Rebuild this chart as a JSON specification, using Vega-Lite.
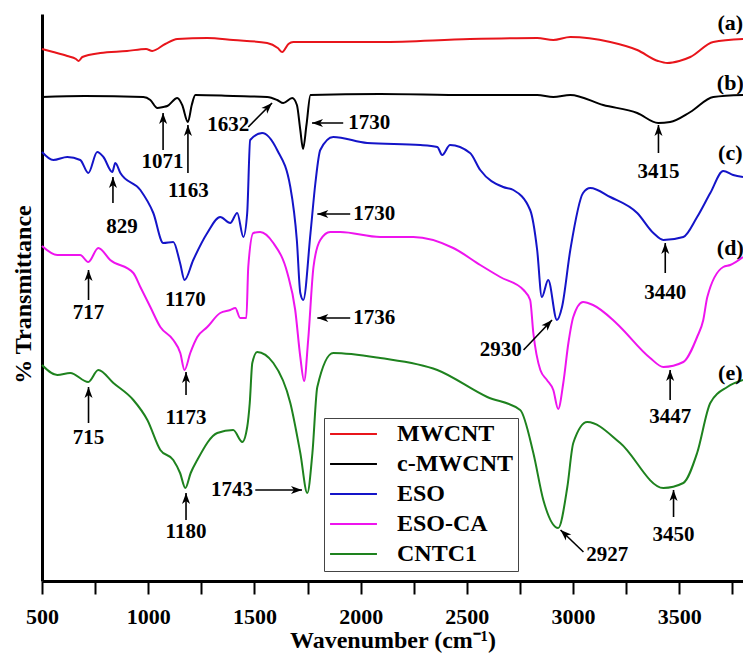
{
  "$schema": "https://vega.github.io/schema/vega-lite/v6.json",
  "width": 701,
  "height": 567,
  "autosize": {"type": "none"},
  "padding": {"left": 42, "top": 14, "right": 0, "bottom": 81},
  "config": {"view": {"stroke": null}, "font": "Liberation Serif"},
  "datasets": {
    "spectra": [
      {"s":"MWCNT","w":500,"t":532},{"s":"MWCNT","w":553,"t":529},{"s":"MWCNT","w":619,"t":525},{"s":"MWCNT","w":660,"t":522},{"s":"MWCNT","w":672,"t":520},{"s":"MWCNT","w":690,"t":524},{"s":"MWCNT","w":774,"t":528},{"s":"MWCNT","w":900,"t":530},{"s":"MWCNT","w":990,"t":532},{"s":"MWCNT","w":1019,"t":530},{"s":"MWCNT","w":1080,"t":537},{"s":"MWCNT","w":1137,"t":542},{"s":"MWCNT","w":1278,"t":543},{"s":"MWCNT","w":1400,"t":541},{"s":"MWCNT","w":1560,"t":538},{"s":"MWCNT","w":1610,"t":533},{"s":"MWCNT","w":1631,"t":529},{"s":"MWCNT","w":1660,"t":537},{"s":"MWCNT","w":1683,"t":539},{"s":"MWCNT","w":2092,"t":539},{"s":"MWCNT","w":2515,"t":542},{"s":"MWCNT","w":2831,"t":543},{"s":"MWCNT","w":2907,"t":541},{"s":"MWCNT","w":2987,"t":544},{"s":"MWCNT","w":3175,"t":539},{"s":"MWCNT","w":3302,"t":531},{"s":"MWCNT","w":3400,"t":520},{"s":"MWCNT","w":3444,"t":518},{"s":"MWCNT","w":3500,"t":520},{"s":"MWCNT","w":3552,"t":524},{"s":"MWCNT","w":3660,"t":539},{"s":"MWCNT","w":3800,"t":542},
      {"s":"c-MWCNT","w":500,"t":484},{"s":"c-MWCNT","w":700,"t":485},{"s":"c-MWCNT","w":977,"t":484},{"s":"c-MWCNT","w":1010,"t":481},{"s":"c-MWCNT","w":1043,"t":473},{"s":"c-MWCNT","w":1071,"t":474},{"s":"c-MWCNT","w":1090,"t":475},{"s":"c-MWCNT","w":1137,"t":483},{"s":"c-MWCNT","w":1160,"t":476},{"s":"c-MWCNT","w":1187,"t":459},{"s":"c-MWCNT","w":1205,"t":476},{"s":"c-MWCNT","w":1222,"t":486},{"s":"c-MWCNT","w":1400,"t":485},{"s":"c-MWCNT","w":1560,"t":484},{"s":"c-MWCNT","w":1607,"t":481},{"s":"c-MWCNT","w":1636,"t":478},{"s":"c-MWCNT","w":1678,"t":483},{"s":"c-MWCNT","w":1700,"t":476},{"s":"c-MWCNT","w":1716,"t":451},{"s":"c-MWCNT","w":1729,"t":432},{"s":"c-MWCNT","w":1745,"t":456},{"s":"c-MWCNT","w":1764,"t":486},{"s":"c-MWCNT","w":2092,"t":487},{"s":"c-MWCNT","w":2500,"t":486},{"s":"c-MWCNT","w":2831,"t":486},{"s":"c-MWCNT","w":2907,"t":484},{"s":"c-MWCNT","w":2987,"t":486},{"s":"c-MWCNT","w":3142,"t":476},{"s":"c-MWCNT","w":3302,"t":468},{"s":"c-MWCNT","w":3401,"t":458},{"s":"c-MWCNT","w":3457,"t":459},{"s":"c-MWCNT","w":3552,"t":469},{"s":"c-MWCNT","w":3660,"t":484},{"s":"c-MWCNT","w":3800,"t":486},
      {"s":"ESO","w":500,"t":429},{"s":"ESO","w":553,"t":421},{"s":"ESO","w":619,"t":424},{"s":"ESO","w":680,"t":421},{"s":"ESO","w":718,"t":408},{"s":"ESO","w":760,"t":429},{"s":"ESO","w":789,"t":424},{"s":"ESO","w":831,"t":409},{"s":"ESO","w":845,"t":418},{"s":"ESO","w":869,"t":408},{"s":"ESO","w":963,"t":391},{"s":"ESO","w":1024,"t":368},{"s":"ESO","w":1071,"t":338},{"s":"ESO","w":1118,"t":339},{"s":"ESO","w":1150,"t":318},{"s":"ESO","w":1171,"t":301},{"s":"ESO","w":1212,"t":321},{"s":"ESO","w":1278,"t":348},{"s":"ESO","w":1339,"t":364},{"s":"ESO","w":1386,"t":358},{"s":"ESO","w":1419,"t":368},{"s":"ESO","w":1448,"t":344},{"s":"ESO","w":1466,"t":368},{"s":"ESO","w":1480,"t":441},{"s":"ESO","w":1536,"t":448},{"s":"ESO","w":1607,"t":431},{"s":"ESO","w":1669,"t":394},{"s":"ESO","w":1700,"t":340},{"s":"ESO","w":1716,"t":288},{"s":"ESO","w":1730,"t":281},{"s":"ESO","w":1764,"t":348},{"s":"ESO","w":1787,"t":398},{"s":"ESO","w":1810,"t":431},{"s":"ESO","w":1871,"t":444},{"s":"ESO","w":2031,"t":438},{"s":"ESO","w":2281,"t":436},{"s":"ESO","w":2361,"t":434},{"s":"ESO","w":2384,"t":426},{"s":"ESO","w":2421,"t":436},{"s":"ESO","w":2515,"t":428},{"s":"ESO","w":2563,"t":411},{"s":"ESO","w":2671,"t":394},{"s":"ESO","w":2719,"t":391},{"s":"ESO","w":2798,"t":371},{"s":"ESO","w":2831,"t":331},{"s":"ESO","w":2853,"t":284},{"s":"ESO","w":2883,"t":301},{"s":"ESO","w":2924,"t":261},{"s":"ESO","w":2948,"t":274},{"s":"ESO","w":2987,"t":331},{"s":"ESO","w":3047,"t":388},{"s":"ESO","w":3081,"t":393},{"s":"ESO","w":3175,"t":384},{"s":"ESO","w":3302,"t":368},{"s":"ESO","w":3378,"t":348},{"s":"ESO","w":3425,"t":341},{"s":"ESO","w":3519,"t":344},{"s":"ESO","w":3584,"t":364},{"s":"ESO","w":3646,"t":388},{"s":"ESO","w":3707,"t":410},{"s":"ESO","w":3754,"t":406},{"s":"ESO","w":3800,"t":404},
      {"s":"ESO-CA","w":500,"t":335},{"s":"ESO-CA","w":572,"t":326},{"s":"ESO-CA","w":680,"t":326},{"s":"ESO-CA","w":718,"t":319},{"s":"ESO-CA","w":765,"t":333},{"s":"ESO-CA","w":821,"t":321},{"s":"ESO-CA","w":930,"t":308},{"s":"ESO-CA","w":963,"t":294},{"s":"ESO-CA","w":1010,"t":274},{"s":"ESO-CA","w":1057,"t":254},{"s":"ESO-CA","w":1118,"t":241},{"s":"ESO-CA","w":1151,"t":228},{"s":"ESO-CA","w":1171,"t":211},{"s":"ESO-CA","w":1198,"t":228},{"s":"ESO-CA","w":1231,"t":244},{"s":"ESO-CA","w":1278,"t":254},{"s":"ESO-CA","w":1339,"t":268},{"s":"ESO-CA","w":1386,"t":271},{"s":"ESO-CA","w":1410,"t":273},{"s":"ESO-CA","w":1433,"t":263},{"s":"ESO-CA","w":1462,"t":263},{"s":"ESO-CA","w":1471,"t":314},{"s":"ESO-CA","w":1495,"t":348},{"s":"ESO-CA","w":1527,"t":349},{"s":"ESO-CA","w":1589,"t":338},{"s":"ESO-CA","w":1655,"t":308},{"s":"ESO-CA","w":1692,"t":271},{"s":"ESO-CA","w":1716,"t":224},{"s":"ESO-CA","w":1734,"t":200},{"s":"ESO-CA","w":1753,"t":241},{"s":"ESO-CA","w":1778,"t":314},{"s":"ESO-CA","w":1810,"t":341},{"s":"ESO-CA","w":1857,"t":349},{"s":"ESO-CA","w":1904,"t":349},{"s":"ESO-CA","w":2092,"t":344},{"s":"ESO-CA","w":2248,"t":344},{"s":"ESO-CA","w":2436,"t":333},{"s":"ESO-CA","w":2563,"t":316},{"s":"ESO-CA","w":2657,"t":304},{"s":"ESO-CA","w":2767,"t":291},{"s":"ESO-CA","w":2798,"t":281},{"s":"ESO-CA","w":2813,"t":248},{"s":"ESO-CA","w":2846,"t":211},{"s":"ESO-CA","w":2877,"t":201},{"s":"ESO-CA","w":2907,"t":191},{"s":"ESO-CA","w":2930,"t":172},{"s":"ESO-CA","w":2954,"t":198},{"s":"ESO-CA","w":2978,"t":238},{"s":"ESO-CA","w":3001,"t":264},{"s":"ESO-CA","w":3047,"t":279},{"s":"ESO-CA","w":3094,"t":276},{"s":"ESO-CA","w":3188,"t":261},{"s":"ESO-CA","w":3222,"t":254},{"s":"ESO-CA","w":3363,"t":223},{"s":"ESO-CA","w":3425,"t":214},{"s":"ESO-CA","w":3519,"t":219},{"s":"ESO-CA","w":3584,"t":244},{"s":"ESO-CA","w":3613,"t":261},{"s":"ESO-CA","w":3632,"t":284},{"s":"ESO-CA","w":3707,"t":314},{"s":"ESO-CA","w":3740,"t":316},{"s":"ESO-CA","w":3800,"t":324},
      {"s":"CNTC1","w":500,"t":216},{"s":"CNTC1","w":572,"t":206},{"s":"CNTC1","w":633,"t":208},{"s":"CNTC1","w":718,"t":199},{"s":"CNTC1","w":765,"t":211},{"s":"CNTC1","w":836,"t":198},{"s":"CNTC1","w":930,"t":181},{"s":"CNTC1","w":996,"t":161},{"s":"CNTC1","w":1057,"t":131},{"s":"CNTC1","w":1118,"t":121},{"s":"CNTC1","w":1150,"t":108},{"s":"CNTC1","w":1175,"t":93},{"s":"CNTC1","w":1200,"t":108},{"s":"CNTC1","w":1231,"t":121},{"s":"CNTC1","w":1325,"t":148},{"s":"CNTC1","w":1400,"t":151},{"s":"CNTC1","w":1443,"t":139},{"s":"CNTC1","w":1466,"t":154},{"s":"CNTC1","w":1478,"t":178},{"s":"CNTC1","w":1490,"t":218},{"s":"CNTC1","w":1513,"t":229},{"s":"CNTC1","w":1589,"t":218},{"s":"CNTC1","w":1669,"t":178},{"s":"CNTC1","w":1716,"t":128},{"s":"CNTC1","w":1749,"t":88},{"s":"CNTC1","w":1773,"t":128},{"s":"CNTC1","w":1796,"t":194},{"s":"CNTC1","w":1871,"t":228},{"s":"CNTC1","w":2092,"t":223},{"s":"CNTC1","w":2361,"t":211},{"s":"CNTC1","w":2596,"t":184},{"s":"CNTC1","w":2751,"t":171},{"s":"CNTC1","w":2813,"t":128},{"s":"CNTC1","w":2860,"t":81},{"s":"CNTC1","w":2930,"t":53},{"s":"CNTC1","w":2973,"t":94},{"s":"CNTC1","w":3001,"t":138},{"s":"CNTC1","w":3067,"t":159},{"s":"CNTC1","w":3222,"t":138},{"s":"CNTC1","w":3425,"t":93},{"s":"CNTC1","w":3519,"t":98},{"s":"CNTC1","w":3584,"t":128},{"s":"CNTC1","w":3646,"t":178},{"s":"CNTC1","w":3726,"t":194},{"s":"CNTC1","w":3800,"t":201}
    ],
    "arrows": [
      {"w":1070,"t":468,"w2":1070,"t2":431,"ang":0},
      {"w":1187,"t":456,"w2":1187,"t2":408,"ang":0},
      {"w":1583,"t":478,"w2":1471,"t2":454,"ang":45},
      {"w":1771,"t":458,"w2":1918,"t2":458,"ang":270},
      {"w":834,"t":404,"w2":834,"t2":378,"ang":0},
      {"w":1796,"t":367,"w2":1951,"t2":367,"ang":270},
      {"w":719,"t":311,"w2":719,"t2":281,"ang":0},
      {"w":1796,"t":263,"w2":1951,"t2":263,"ang":270},
      {"w":1178,"t":209,"w2":1178,"t2":186,"ang":0},
      {"w":2901,"t":261,"w2":2767,"t2":231,"ang":43},
      {"w":3402,"t":456,"w2":3402,"t2":428,"ang":0},
      {"w":3434,"t":338,"w2":3434,"t2":308,"ang":0},
      {"w":3457,"t":211,"w2":3457,"t2":181,"ang":0},
      {"w":719,"t":194,"w2":719,"t2":158,"ang":0},
      {"w":1178,"t":88,"w2":1178,"t2":61,"ang":0},
      {"w":1724,"t":91,"w2":1504,"t2":91,"ang":90},
      {"w":2941,"t":51,"w2":3049,"t2":29,"ang":313},
      {"w":3473,"t":91,"w2":3473,"t2":64,"ang":0}
    ],
    "labels": [
      {"w":1067,"t":419,"label":"1071"},
      {"w":1189,"t":390,"label":"1163"},
      {"w":1377,"t":456,"label":"1632"},
      {"w":2041,"t":458,"label":"1730"},
      {"w":877,"t":354,"label":"829"},
      {"w":1175,"t":281,"label":"1170"},
      {"w":2064,"t":367,"label":"1730"},
      {"w":719,"t":268,"label":"717"},
      {"w":2064,"t":263,"label":"1736"},
      {"w":1178,"t":163,"label":"1173"},
      {"w":2660,"t":231,"label":"2930"},
      {"w":3402,"t":409,"label":"3415"},
      {"w":3434,"t":288,"label":"3440"},
      {"w":3457,"t":164,"label":"3447"},
      {"w":719,"t":143,"label":"715"},
      {"w":1178,"t":49,"label":"1180"},
      {"w":1394,"t":91,"label":"1743"},
      {"w":3161,"t":26,"label":"2927"},
      {"w":3473,"t":46,"label":"3450"}
    ],
    "tags": [
      {"w":3740,"t":558,"label":"(a)"},
      {"w":3740,"t":498,"label":"(b)"},
      {"w":3740,"t":428,"label":"(c)"},
      {"w":3740,"t":333,"label":"(d)"},
      {"w":3740,"t":208,"label":"(e)"}
    ]
  },
  "encoding": {
    "x": {
      "field": "w", "type": "quantitative",
      "scale": {"domain": [500, 3800], "nice": false, "zero": false},
      "axis": {
        "values": [500,750,1000,1250,1500,1750,2000,2250,2500,2750,3000,3250,3500,3750],
        "format": "d",
        "labelExpr": "datum.value % 500 === 0 ? datum.label : ''",
        "tickSize": 13, "tickWidth": 2, "tickColor": "black",
        "domainColor": "black", "domainWidth": 3,
        "labelFont": "Liberation Serif", "labelFontWeight": "bold", "labelFontSize": 22, "labelColor": "black",
        "labelPadding": 12, "labelFlush": false, "labelOverlap": false, "grid": false,
        "title": "Wavenumber (cm⁻¹)", "titleFont": "Liberation Serif", "titleFontSize": 24, "titleFontWeight": "bold", "titleColor": "black", "titlePadding": 1,
        "encode": {"ticks": {"update": {"y2": {"signal": "datum.value % 500 === 0 ? 13 : 7"}}}}
      }
    },
    "y": {
      "field": "t", "type": "quantitative",
      "scale": {"domain": [0, 567], "nice": false, "zero": false},
      "axis": {
        "ticks": false, "labels": false, "grid": false,
        "domainColor": "black", "domainWidth": 3,
        "title": "% Transmittance", "titleFont": "Liberation Serif", "titleFontSize": 24, "titleFontWeight": "bold", "titleColor": "black",
        "titleX": -19, "titleY": 280, "titleAngle": -90, "titleBaseline": "middle", "titleAlign": "center"
      }
    }
  },
  "layer": [
    {
      "data": {"name": "spectra"},
      "mark": {"type": "line", "strokeWidth": 2, "interpolate": "monotone"},
      "encoding": {
        "color": {
          "field": "s", "type": "nominal",
          "scale": {"domain": ["MWCNT","c-MWCNT","ESO","ESO-CA","CNTC1"], "range": ["#e8151b","#000000","#1414c8","#ee14ee","#1e821e"]},
          "legend": {
            "orient": "none", "legendX": 282, "legendY": 404, "title": null,
            "symbolType": "stroke", "symbolSize": 2200, "symbolStrokeWidth": 2,
            "labelFont": "Liberation Serif", "labelFontWeight": "bold", "labelFontSize": 24, "labelColor": "black",
            "labelOffset": 19, "clipHeight": 22, "rowPadding": 6, "padding": 5,
            "strokeColor": "#444", "fillColor": "white"
          }
        }
      }
    },
    {
      "data": {"name": "arrows"},
      "mark": {"type": "rule", "color": "black", "strokeWidth": 1.6},
      "encoding": {
        "x2": {"field": "w2"},
        "y2": {"field": "t2"}
      }
    },
    {
      "data": {"name": "arrows"},
      "mark": {"type": "point", "filled": true, "color": "black", "opacity": 1, "size": 215, "shape": "M0,0L0.55,1.5L0,1.1L-0.55,1.5Z"},
      "encoding": {
        "angle": {"field": "ang", "type": "quantitative", "scale": null}
      }
    },
    {
      "data": {"name": "labels"},
      "mark": {"type": "text", "font": "Liberation Serif", "fontWeight": "bold", "fontSize": 21, "color": "black", "align": "center", "baseline": "middle"},
      "encoding": {"text": {"field": "label"}}
    },
    {
      "data": {"name": "tags"},
      "mark": {"type": "text", "font": "Liberation Serif", "fontWeight": "bold", "fontSize": 22, "color": "black", "align": "center", "baseline": "middle"},
      "encoding": {"text": {"field": "label"}}
    }
  ]
}
